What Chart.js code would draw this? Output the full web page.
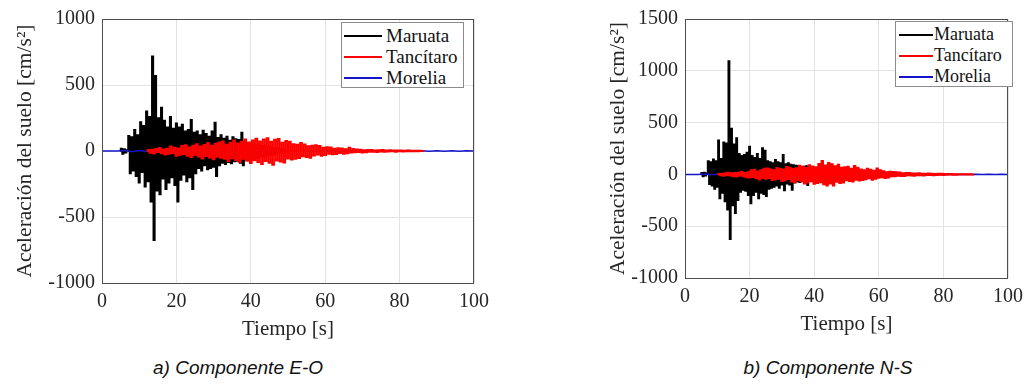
<!DOCTYPE html>
<html>
<head>
<meta charset="utf-8">
<script src="https://cdn.jsdelivr.net/npm/chart.js@4.4.1/dist/chart.umd.min.js"></script>
<style>
  body { margin: 0; background: #fff; width: 1030px; height: 384px; position: relative; overflow: hidden; }
  canvas { position: absolute; top: 0; }
  #c1 { left: 0; }
  #c2 { left: 590px; }
  .legend { position: absolute; background: #fff; border: 1px solid #8c8c8c; box-sizing: border-box;
            font-family: 'Liberation Serif', 'Times New Roman', serif; color: #111; padding-top: 2px; }
  .legend .row { position: relative; height: 21px; line-height: 21px; white-space: nowrap; }
  .legend .swatch { position: absolute; top: 10px; height: 2px; }
  .caption { position: absolute; top: 357px; width: 300px; text-align: center; color: #111;
             font-family: 'Liberation Sans', Arial, sans-serif; font-style: italic; font-size: 19px; }
</style>
</head>
<body>
<canvas id="c1" width="500" height="345"></canvas>
<canvas id="c2" width="440" height="340"></canvas>
<div class="legend" id="leg1" style="left:341px; top:22px; width:123px; height:66px; font-size:19px;"></div>
<div class="legend" id="leg2" style="left:895px; top:21px; width:118px; height:66px; font-size:18px;"></div>
<div class="caption" style="left:88px;">a) Componente E-O</div>
<div class="caption" style="left:678px;">b) Componente N-S</div>
<script>
// sampling of the records (seconds)
var MAR_T0 = 4.8, MAR_DT = 0.4;
var TAN_EO_T0 = 12, TAN_NS_T0 = 10, TAN_DT = 0.5;
var MOR_T0 = 0, MOR_DT = 2;

var xTicks = [0, 20, 40, 60, 80, 100];
var yTicksEO = [-1000, -500, 0, 500, 1000];
var yTicksNS = [-1000, -500, 0, 500, 1000, 1500];

// E-O component [cm/s2]
var maruataEO = [
  0, 18, -22, 15, -12, 8, 115, -170, 105, -150,
  160, -190, 120, -240, 220, -160, 190, -270, 300, -230,
  260, -385, 718, -675, 570, -300, 250, -330, 330, -210,
  230, -290, 180, -240, 260, -200, 170, -260, 210, -385,
  180, -220, 200, -180, 150, -230, 160, -200, 237, -290,
  140, -170, 150, -130, 120, -150, 155, -110, 130, -140,
  110, -130, 150, -120, 215, -190, 100, -110, 120, -90,
  95, -100, 110, -85, 80, -95, 105, -80, 90, -75,
  85, -90, 140, -110, 70, -65, 60, -70, 55, -60,
  50, -55, 45, -50, 48, -40, 40, -45, 35, -38,
  30, -32, 28, -25, 22, -25, 20, -18, 15, -16,
  12, -10, 0
];
var tancitaroEO = [
  0, 8, -14, 10, -20, 16, -9, 24, -18, 12,
  -28, 18, -22, 34, -16, 26, -36, 20, -30, 38,
  -24, 44, -36, 28, -46, 40, -30, 52, -42, 34,
  -58, 46, -38, 62, -50, 40, -64, 56, -44, 66,
  -52, 72, -60, 48, -76, 64, -55, 80, -68, 58,
  -82, 70, -60, 88, -74, 66, -92, 80, -70, 94,
  -84, 72, -100, 88, -76, 98, -90, 70, -104, 86,
  -72, 92, -80, 64, -88, 76, -58, 70, -66, 52,
  -60, 48, -54, 62, -40, 50, -46, 36, -52, 40,
  -34, 44, -28, 38, -36, 26, -32, 30, -22, 28,
  -26, 18, -24, 22, -16, 20, -22, 14, -18, 26,
  -12, 16, -10, 13, -8, 11, -12, 7, -10, 9,
  -6, 9, -7, 5, -8, 6, -4, 8, -6, 5,
  -5, 6, -3, 5, -6, 4, -3, 5, -4, 3,
  -3, 4, -2, 3, -3, 2, -2, 3, -1, 0
];
var moreliaEO = [
  0, 0, 0, 4, -5, 3, -4, 5, -3, 4,
  -4, 3, -5, 4, -3, 5, -4, 3, -3, 4,
  -4, 3, -3, 2, -3, 3, -2, 3, -3, 2,
  -3, 3, -2, 2, -3, 2, -2, 3, -2, 2,
  -2, 3, -2, 2, -2, 2, -2, 2, -2, 2,
  0
];

// N-S component [cm/s2]
var maruataNS = [
  0, 15, -20, 18, -12, 10, 130, -95, 120, -110,
  145, -140, 130, -120, 330, -233, 150, -180, 310, -260,
  300, -340, 1094, -626, 443, -300, 290, -375, 350, -250,
  200, -170, 180, -150, 190, -160, 210, -200, 270, -280,
  180, -200, 160, -170, 200, -233, 150, -180, 255, -190,
  230, -210, 130, -140, 120, -130, 110, -120, 140, -110,
  120, -130, 110, -100, 190, -155, 100, -90, 110, -100,
  95, -150, 90, -80, 85, -70, 80, -75, 70, -65,
  75, -70, 80, -105, 60, -55, 55, -50, 48, -45,
  45, -40, 42, -38, 40, -35, 35, -30, 32, -28,
  28, -25, 22, -20, 18, -16, 15, -12, 10, -8,
  6, -5, 0
];
var tancitaroNS = [
  0, 6, -10, 8, -14, 11, -7, 16, -12, 9,
  -18, 14, -22, 17, -12, 26, -20, 15, -28, 22,
  -32, 40, -26, 46, -38, 30, -50, 42, -34, 55,
  -44, 58, -36, 50, -56, 40, -48, 62, -42, 52,
  -64, 48, -58, 72, -46, 66, -70, 54, -76, 60,
  -58, 84, -66, 74, -88, 62, -80, 90, -68, 78,
  -92, 70, -84, 102, -76, 130, -96, 86, -108, 112,
  -90, 98, -107, 80, -72, 94, -84, 66, -78, 70,
  -58, 76, -64, 56, -70, 82, -52, 64, -60, 48,
  -54, 42, -48, 56, -38, 46, -52, 36, -44, 57,
  -34, 40, -28, 32, -36, 22, -30, 26, -20, 24,
  -18, 22, -14, 19, -16, 12, -17, 14, -10, 15,
  -12, 9, -13, 10, -8, 12, -9, 7, -11, 8,
  -7, 10, -6, 8, -9, 5, -7, 8, -5, 7,
  -6, 4, -5, 6, -3, 5, -4, 3, -4, 3,
  -2, 3, -3, 2, -2, 2, -1, 2, -1, 0
];
var moreliaNS = [
  0, 0, 0, 3, -4, 4, -3, 5, -4, 3,
  -3, 4, -4, 3, -3, 4, -3, 3, -4, 3,
  -3, 2, -3, 3, -2, 3, -2, 2, -3, 2,
  -2, 3, -2, 2, -2, 3, -2, 2, -2, 2,
  -2, 2, -2, 2, -1, 2, -2, 1, -2, 1,
  0
];

var serif = "'Liberation Serif', 'Times New Roman', serif";
var textColor = '#262626';

// stepped 'middle' keeps the record drawn as dense vertical strokes
function series(label, color, width, order, stepped, vals, t0, dt) {
  return {
    label: label,
    data: vals.map(function (v, i) { return { x: Math.round((t0 + i * dt) * 100) / 100, y: v }; }),
    borderColor: color,
    backgroundColor: color,
    borderWidth: width,
    pointRadius: 0,
    fill: false,
    tension: 0,
    stepped: stepped,
    order: order
  };
}

//frame around the plot area (box on)
var framePlugin = {
  id: 'frame',
  afterDatasetsDraw: function (chart) {
    var a = chart.chartArea, ctx = chart.ctx;
    ctx.save();
    ctx.strokeStyle = '#4d4d4d';
    ctx.lineWidth = 1;
    ctx.strokeRect(Math.round(a.left) + 0.5, Math.round(a.top) + 0.5,
                   Math.round(a.right - a.left) - 1, Math.round(a.bottom - a.top));
    ctx.restore();
  }
};

function plainLabel(v) { return String(v); }

function makeOptions(yTicks, yAxisWidth, xAxisHeight, padRight, yTitlePad) {
  return {
    responsive: false,
    animation: false,
    devicePixelRatio: 1,
    events: [],
    layout: { padding: { top: 13, right: padRight, bottom: 0, left: 0 } },
    plugins: { legend: { display: false }, tooltip: { enabled: false } },
    scales: {
      x: {
        type: 'linear',
        min: xTicks[0],
        max: xTicks[xTicks.length - 1],
        afterBuildTicks: function (s) { s.ticks = xTicks.map(function (v) { return { value: v }; }); },
        ticks: { padding: 7, color: textColor, maxRotation: 0, callback: plainLabel,
                 font: { family: serif, size: 20 } },
        grid: { color: '#e3e3e3', drawTicks: false },
        border: { display: false },
        title: { display: true, text: 'Tiempo [s]', color: textColor,
                 font: { family: serif, size: 21 }, padding: { top: 0, bottom: 3 } },
        afterFit: function (s) { s.height = xAxisHeight; }
      },
      y: {
        type: 'linear',
        min: yTicks[0],
        max: yTicks[yTicks.length - 1],
        afterBuildTicks: function (s) { s.ticks = yTicks.map(function (v) { return { value: v }; }); },
        ticks: { padding: 7, color: textColor, callback: plainLabel,
                 font: { family: serif, size: 20 } },
        grid: { color: '#e3e3e3', drawTicks: false },
        border: { display: false },
        title: { display: true, text: 'Aceleración del suelo [cm/s²]', color: textColor,
                 font: { family: serif, size: 21.5 }, padding: { top: yTitlePad, bottom: 0 } },
        afterFit: function (s) { s.width = yAxisWidth; }
      }
    }
  };
}

var dataEO = {
  datasets: [
    series('Maruata', '#000000', 1.6, 3, 'middle', maruataEO, MAR_T0, MAR_DT),
    series('Tancítaro', '#ff0000', 1.8, 1, 'middle', tancitaroEO, TAN_EO_T0, TAN_DT),
    series('Morelia', '#1414c8', 1.5, 2, false, moreliaEO, MOR_T0, MOR_DT)
  ]
};
var dataNS = {
  datasets: [
    series('Maruata', '#000000', 1.6, 3, 'middle', maruataNS, MAR_T0, MAR_DT),
    series('Tancítaro', '#ff0000', 1.8, 1, 'middle', tancitaroNS, TAN_NS_T0, TAN_DT),
    series('Morelia', '#1414c8', 1.5, 2, false, moreliaNS, MOR_T0, MOR_DT)
  ]
};

var chart1 = new Chart(document.getElementById('c1'), {
  type: 'line',
  data: dataEO,
  options: makeOptions(yTicksEO, 102, 62, 26, 12),
  plugins: [framePlugin]
});
var chart2 = new Chart(document.getElementById('c2'), {
  type: 'line',
  data: dataNS,
  options: makeOptions(yTicksNS, 95, 62, 16, 15),
  plugins: [framePlugin]
});

//legend boxes built from the datasets
function buildLegend(el, chart, swLeft, swWidth, textLeft) {
  chart.data.datasets.forEach(function (ds) {
    var row = document.createElement('div');
    row.className = 'row';
    var sw = document.createElement('span');
    sw.className = 'swatch';
    sw.style.left = swLeft + 'px';
    sw.style.width = swWidth + 'px';
    sw.style.background = ds.borderColor;
    var tx = document.createElement('span');
    tx.style.position = 'absolute';
    tx.style.left = textLeft + 'px';
    tx.textContent = ds.label;
    row.appendChild(sw);
    row.appendChild(tx);
    el.appendChild(row);
  });
}
buildLegend(document.getElementById('leg1'), chart1, 2, 38, 44);
buildLegend(document.getElementById('leg2'), chart2, 3, 34, 38);
</script>
</body>
</html>
